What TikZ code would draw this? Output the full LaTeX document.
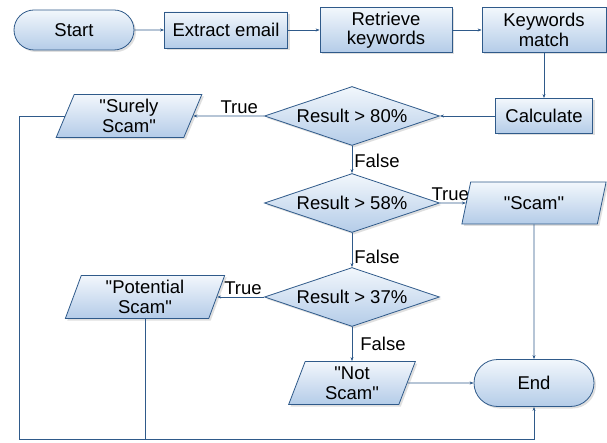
\documentclass[tikz,border=0pt]{standalone}
\usepackage{fontspec}
\setmainfont{Liberation Sans}[Ligatures=TeXOff]
\usetikzlibrary{shapes.geometric,shapes.misc,arrows.meta,shadows}
\definecolor{flowline}{HTML}{2F5A8A}
\definecolor{flowtop}{HTML}{F2F7FC}
\definecolor{flowbot}{HTML}{B4CCE8}
\newcommand{\qt}[1]{"#1"}

\begin{document}
\begin{tikzpicture}[x=1pt,y=-1pt,
every node/.style={font=\fontsize{18.5}{19.5}\selectfont},
box/.style={draw=flowline,thick,top color=flowtop,bottom color=flowbot,
  drop shadow={shadow xshift=2pt,shadow yshift=-2pt,fill=black!25,opacity=.5},
  align=center,inner sep=1pt},
term/.style={box,rounded rectangle},
proc/.style={box,rectangle},
io/.style={box,trapezium,trapezium left angle=74,trapezium right angle=106,
  trapezium stretches=true},
test/.style={box,diamond,aspect=3,inner sep=0pt,minimum width=175,minimum height=59},
flow/.style={draw=flowline,semithick,-{Stealth[length=4pt,width=3pt]}},
lbl/.style={inner sep=2pt}]
\useasboundingbox (0,0) rectangle (607,443);

% top row
\node[term,minimum width=122,minimum height=40] (start) at (74,30) {Start};
\node[proc,minimum width=123,minimum height=36] (extract) at (226,30) {Extract email};
\node[proc,minimum width=132,minimum height=45] (retrieve) at (386,30) {Retrieve\\keywords};
\node[proc,minimum width=124,minimum height=45] (kwmatch) at (544,30) {Keywords\\match};
\node[proc,minimum width=97,minimum height=35] (calc) at (544,116) {Calculate};

% decisions
\node[test] (d80) at (352,116) {Result > 80\%};
\node[test] (d58) at (352,203) {Result > 58\%};
\node[test] (d37) at (352,297) {Result > 37\%};

% outputs
\node[io,minimum width=146,minimum height=43] (sure) at (129,116) {\qt{Surely\\Scam}};
\node[io,minimum width=145,minimum height=42] (scam) at (534,203) {\qt{Scam}};
\node[io,minimum width=160,minimum height=43] (potential) at (145,297) {\qt{Potential\\Scam}};
\node[io,minimum width=127,minimum height=43] (notscam) at (352,383) {\qt{Not\\Scam}};
\node[term,minimum width=122,minimum height=47] (end) at (534,383) {End};
\coordinate (loop) at (19,439);

\draw[flow] (start) -- (extract);
\draw[flow] (extract) -- (retrieve);
\draw[flow] (retrieve) -- (kwmatch);
\draw[flow] (kwmatch) -- (calc);
\draw[flow] (calc) -- (d80);
\draw[flow] (d80) -- node[lbl,above,pos=.35] {True} (sure);
\draw[flow] (d80) -- node[lbl,right,pos=.55] {False} (d58);
\draw[flow] (d58) -- node[lbl,above,pos=.4] {True} (scam);
\draw[flow] (d58) -- node[lbl,right,pos=.7] {False} (d37);
\draw[flow] (d37) -- node[lbl,above,pos=.45] {True} (potential);
\draw[flow] (d37) -- node[lbl,right=6pt,pos=.5] {False} (notscam);
\draw[flow] (notscam) -- (end);
\draw[flow] (scam) -- (end);
% back to the end node along the bottom
\draw[flow] (sure.west) -- (sure.west -| loop) -- (loop) -| (end.south);
\draw[draw=flowline,semithick] (potential.south) -- (potential.south |- loop);
\end{tikzpicture}
\end{document}
